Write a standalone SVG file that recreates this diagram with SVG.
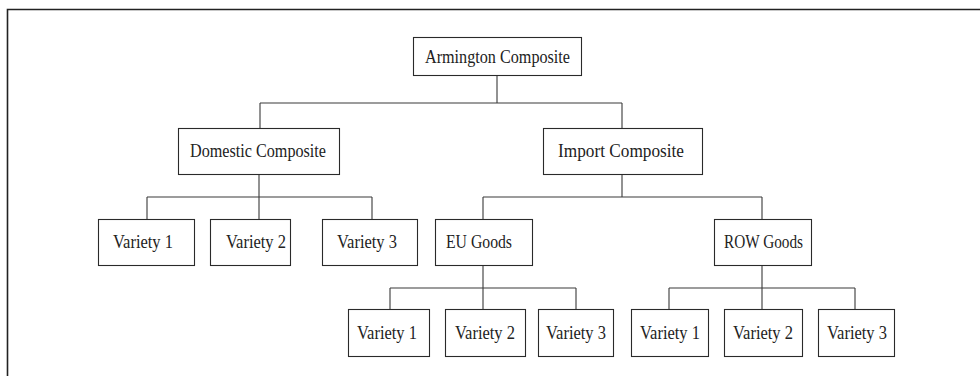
<svg xmlns="http://www.w3.org/2000/svg" width="980" height="376" viewBox="0 0 980 376">
<style>
.frame{fill:none;stroke:#222;stroke-width:1.6}
.box{fill:#fff;stroke:#2a2a2a;stroke-width:1.1}
.lbl{font-family:"Liberation Serif","Times New Roman",serif;font-size:18.5px;fill:#222}
.conn path{fill:none;stroke:#3a3a3a;stroke-width:1.1}
</style>
<rect width="980" height="376" fill="#fff"/>
<path class="frame" d="M7.5,376 V9.5 H980"/>
<g class="conn" id="connectors">
<path d="M497,75 V103 M260,103 H622 M260,103 V128 M622,103 V128"/>
<path d="M259,175 V197 M147,197 H372 M147,197 V219 M259,197 V219 M372,197 V219"/>
<path d="M622,175 V197 M483,197 H762 M483,197 V219 M762,197 V219"/>
<path d="M483,265 V288 M390,288 H576 M390,288 V309 M483,288 V309 M576,288 V309"/>
<path d="M762,265 V288 M669,288 H855 M669,288 V309 M762,288 V309 M855,288 V309"/>
</g>
<g id="armington"><rect class="box" x="413.5" y="37.5" width="168" height="38"/><text class="lbl" x="425" y="63" textLength="145" lengthAdjust="spacingAndGlyphs">Armington Composite</text></g>
<g id="domestic"><rect class="box" x="178.5" y="128.5" width="161" height="46"/><text class="lbl" x="190" y="157" textLength="136" lengthAdjust="spacingAndGlyphs">Domestic Composite</text></g>
<g id="import"><rect class="box" x="543.5" y="128.5" width="159" height="46"/><text class="lbl" x="558" y="157" textLength="126" lengthAdjust="spacingAndGlyphs">Import Composite</text></g>
<g id="dom-v1"><rect class="box" x="98.5" y="219.5" width="96" height="46"/><text class="lbl" x="113" y="248" textLength="60" lengthAdjust="spacingAndGlyphs">Variety 1</text></g>
<g id="dom-v2"><rect class="box" x="210.5" y="219.5" width="80" height="46"/><text class="lbl" x="226" y="248" textLength="60" lengthAdjust="spacingAndGlyphs">Variety 2</text></g>
<g id="dom-v3"><rect class="box" x="322.5" y="219.5" width="95" height="46"/><text class="lbl" x="337" y="248" textLength="60" lengthAdjust="spacingAndGlyphs">Variety 3</text></g>
<g id="eu"><rect class="box" x="435.5" y="219.5" width="97" height="46"/><text class="lbl" x="446" y="248" textLength="66" lengthAdjust="spacingAndGlyphs">EU Goods</text></g>
<g id="row"><rect class="box" x="714.5" y="219.5" width="97" height="46"/><text class="lbl" x="724" y="248" textLength="79" lengthAdjust="spacingAndGlyphs">ROW Goods</text></g>
<g id="eu-v1"><rect class="box" x="348.5" y="309.5" width="81" height="47"/><text class="lbl" x="357" y="339" textLength="60" lengthAdjust="spacingAndGlyphs">Variety 1</text></g>
<g id="eu-v2"><rect class="box" x="445.5" y="309.5" width="80" height="47"/><text class="lbl" x="455" y="339" textLength="60" lengthAdjust="spacingAndGlyphs">Variety 2</text></g>
<g id="eu-v3"><rect class="box" x="538.5" y="309.5" width="75" height="47"/><text class="lbl" x="546" y="339" textLength="60" lengthAdjust="spacingAndGlyphs">Variety 3</text></g>
<g id="row-v1"><rect class="box" x="631.5" y="309.5" width="77" height="47"/><text class="lbl" x="640" y="339" textLength="60" lengthAdjust="spacingAndGlyphs">Variety 1</text></g>
<g id="row-v2"><rect class="box" x="724.5" y="309.5" width="78" height="47"/><text class="lbl" x="733" y="339" textLength="60" lengthAdjust="spacingAndGlyphs">Variety 2</text></g>
<g id="row-v3"><rect class="box" x="818.5" y="309.5" width="76" height="47"/><text class="lbl" x="827" y="339" textLength="60" lengthAdjust="spacingAndGlyphs">Variety 3</text></g>
</svg>
